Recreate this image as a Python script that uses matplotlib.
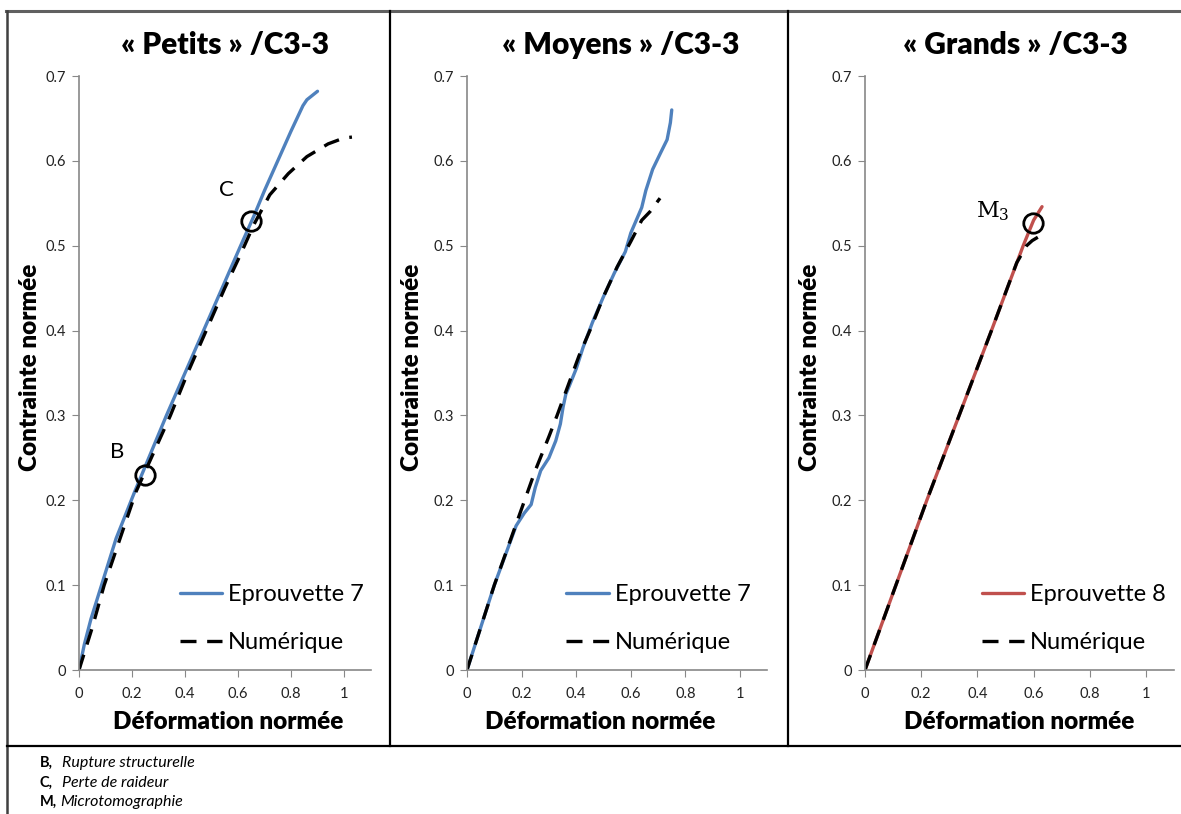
import numpy as np
import matplotlib
matplotlib.use("Agg")
import matplotlib.pyplot as plt
from matplotlib.lines import Line2D

plt.rcParams['font.family'] = ['Lato', 'DejaVu Sans']
plt.rcParams['mathtext.fontset'] = 'dejavuserif'

W, H = 1181, 814

# Petits / C3-3 ----------------------------------------------------------------
p_exp_x = [0, 0.02, 0.045, 0.07, 0.14, 0.21, 0.27, 0.33, 0.40, 0.47, 0.54, 0.61,
           0.66, 0.70, 0.75, 0.80, 0.845, 0.86, 0.90]
p_exp_y = [0, 0.03, 0.06, 0.085, 0.155, 0.21, 0.255, 0.30, 0.35, 0.40, 0.45, 0.50,
           0.535, 0.565, 0.60, 0.635, 0.665, 0.672, 0.682]
p_num_x = [0, 0.05, 0.095, 0.155, 0.215, 0.28, 0.345, 0.41, 0.48, 0.55, 0.61, 0.66,
           0.72, 0.79, 0.86, 0.94, 1.00, 1.03]
p_num_y = [0, 0.05, 0.10, 0.155, 0.21, 0.255, 0.30, 0.35, 0.40, 0.45, 0.49, 0.525,
           0.56, 0.585, 0.605, 0.62, 0.627, 0.628]
p_marks = [("B", 0.249, 0.23), ("C", 0.649, 0.529)]

# Moyens / C3-3 ----------------------------------------------------------------
m_exp_x = [0, 0.03, 0.07, 0.10, 0.14, 0.18, 0.21, 0.235, 0.25, 0.27, 0.30, 0.325,
           0.342, 0.352, 0.362, 0.375, 0.40, 0.425, 0.46, 0.50, 0.54, 0.58, 0.60,
           0.62, 0.64, 0.655, 0.68, 0.71, 0.733, 0.745, 0.75]
m_exp_y = [0, 0.03, 0.07, 0.10, 0.135, 0.17, 0.185, 0.195, 0.215, 0.235, 0.25, 0.27,
           0.29, 0.31, 0.325, 0.335, 0.355, 0.38, 0.41, 0.44, 0.468, 0.493, 0.515,
           0.53, 0.545, 0.565, 0.59, 0.61, 0.625, 0.645, 0.66]
m_num_x = [0, 0.05, 0.10, 0.15, 0.20, 0.25, 0.30, 0.33, 0.37, 0.41, 0.45, 0.50, 0.55,
           0.60, 0.64, 0.67, 0.707]
m_num_y = [0, 0.05, 0.10, 0.145, 0.19, 0.235, 0.275, 0.30, 0.335, 0.37, 0.40, 0.44,
           0.475, 0.505, 0.53, 0.54, 0.556]

# Grands / C3-3 ----------------------------------------------------------------
g_exp_x = [0, 0.11, 0.22, 0.335, 0.45, 0.563, 0.60, 0.63]
g_exp_y = [0, 0.10, 0.20, 0.30, 0.40, 0.50, 0.53, 0.546]
g_num_x = [0, 0.11, 0.22, 0.335, 0.45, 0.54, 0.575, 0.595, 0.615]
g_num_y = [0, 0.10, 0.20, 0.30, 0.40, 0.48, 0.50, 0.506, 0.51]
g_marks = [(r"$\mathrm{M}_3$", 0.598, 0.527)]

panels = [
    dict(title="« Petits » /C3-3", exp=(p_exp_x, p_exp_y), num=(p_num_x, p_num_y),
         label="Eprouvette 7", color="#4F81BD", marks=p_marks,
         left=79, unit=265, title_x=225, ylab_x=30, xlab_x=228, leg_x=0.345,
         mark_off=[(-28, 23), (-25, 31)]),
    dict(title="« Moyens » /C3-3", exp=(m_exp_x, m_exp_y), num=(m_num_x, m_num_y),
         label="Eprouvette 7", color="#4F81BD", marks=[],
         left=467, unit=273, title_x=621, ylab_x=412, xlab_x=600, leg_x=0.33,
         mark_off=[]),
    dict(title="« Grands » /C3-3", exp=(g_exp_x, g_exp_y), num=(g_num_x, g_num_y),
         label="Eprouvette 8", color="#C0504D", marks=g_marks,
         left=865, unit=281, title_x=1015, ylab_x=810, xlab_x=1019, leg_x=0.378,
         mark_off=[(-40, 12)]),
]

fig = plt.figure(figsize=(W / 100, H / 100), dpi=100)

y0_px, y7_px = 670, 76
for p in panels:
    ax = fig.add_axes([p["left"] / W, (H - y0_px) / H,
                       1.1 * p["unit"] / W, (y0_px - y7_px) / H])
    ax.plot(*p["exp"], color=p["color"], lw=2.4, label=p["label"],
            solid_capstyle="round", solid_joinstyle="round")
    ax.plot(*p["num"], color="black", lw=2.4, ls=(0, (4.8, 3.2)), label="Numérique")
    for (txt, mx, my), (dx, dy) in zip(p["marks"], p["mark_off"]):
        ax.plot(mx, my, "o", ms=14, mfc="none", mec="black", mew=2)
        ax.annotate(txt, (mx, my), xytext=(dx, dy), textcoords="offset pixels",
                    ha="center", va="center", fontsize=16)

    ax.set_xlim(0, 1.1)
    ax.set_ylim(0, 0.7)
    ax.set_xticks([0, 0.2, 0.4, 0.6, 0.8, 1.0])
    ax.set_xticklabels(["0", "0.2", "0.4", "0.6", "0.8", "1"])
    ax.set_yticks(np.arange(0, 0.71, 0.1))
    ax.set_yticklabels(["0", "0.1", "0.2", "0.3", "0.4", "0.5", "0.6", "0.7"])
    for s in ["top", "right"]:
        ax.spines[s].set_visible(False)
    for s in ["left", "bottom"]:
        ax.spines[s].set_color("#888888")
        ax.spines[s].set_linewidth(1.2)
    ax.tick_params(direction="out", length=5, color="#888888", labelsize=10.5,
                   labelcolor="#222222", pad=4)
    ax.tick_params(axis="x", pad=7)

    ax.legend(loc="upper left", bbox_to_anchor=(p["leg_x"], 0.145),
              frameon=False, fontsize=17, handlelength=1.8,
              handletextpad=0.25, labelspacing=1.15, borderpad=0,
              borderaxespad=0)

    fig.text(p["title_x"] / W, 1 - 45 / H, p["title"], ha="center", va="center",
             fontsize=21.5, fontweight="heavy")
    fig.text(p["ylab_x"] / W, 1 - 367 / H, "Contrainte normée", ha="center",
             va="center", rotation=90, fontsize=17.5, fontweight="heavy")
    fig.text(p["xlab_x"] / W, 1 - 722 / H, "Déformation normée", ha="center",
             va="center", fontsize=17.5, fontweight="heavy")

# table borders ----------------------------------------------------------------
def fx(px):
    return px / W

def fy(py):
    return 1 - py / H

fig.add_artist(Line2D([fx(6), fx(W)], [fy(11), fy(11)], color="#606060", lw=2.2))
fig.add_artist(Line2D([fx(7), fx(7)], [fy(11), fy(H)], color="#404040", lw=1.8))
for xd in [390, 788]:
    fig.add_artist(Line2D([fx(xd), fx(xd)], [fy(11), fy(746)], color="black", lw=1.6))
fig.add_artist(Line2D([fx(7), fx(W)], [fy(746), fy(746)], color="black", lw=1.6))

# notes ------------------------------------------------------------------------
notes = [("B,", "Rupture structurelle", 763, 62),
         ("C,", "Perte de raideur", 783, 62),
         ("M,", "Microtomographie", 802, 60)]
for key, desc, ypx, xd in notes:
    fig.text(fx(40), fy(ypx), key, ha="left", va="center", fontsize=10.5,
             fontweight="bold")
    fig.text(fx(xd), fy(ypx), desc, ha="left", va="center", fontsize=11.5,
             style="italic")

fig.savefig("out.png", dpi=100)
